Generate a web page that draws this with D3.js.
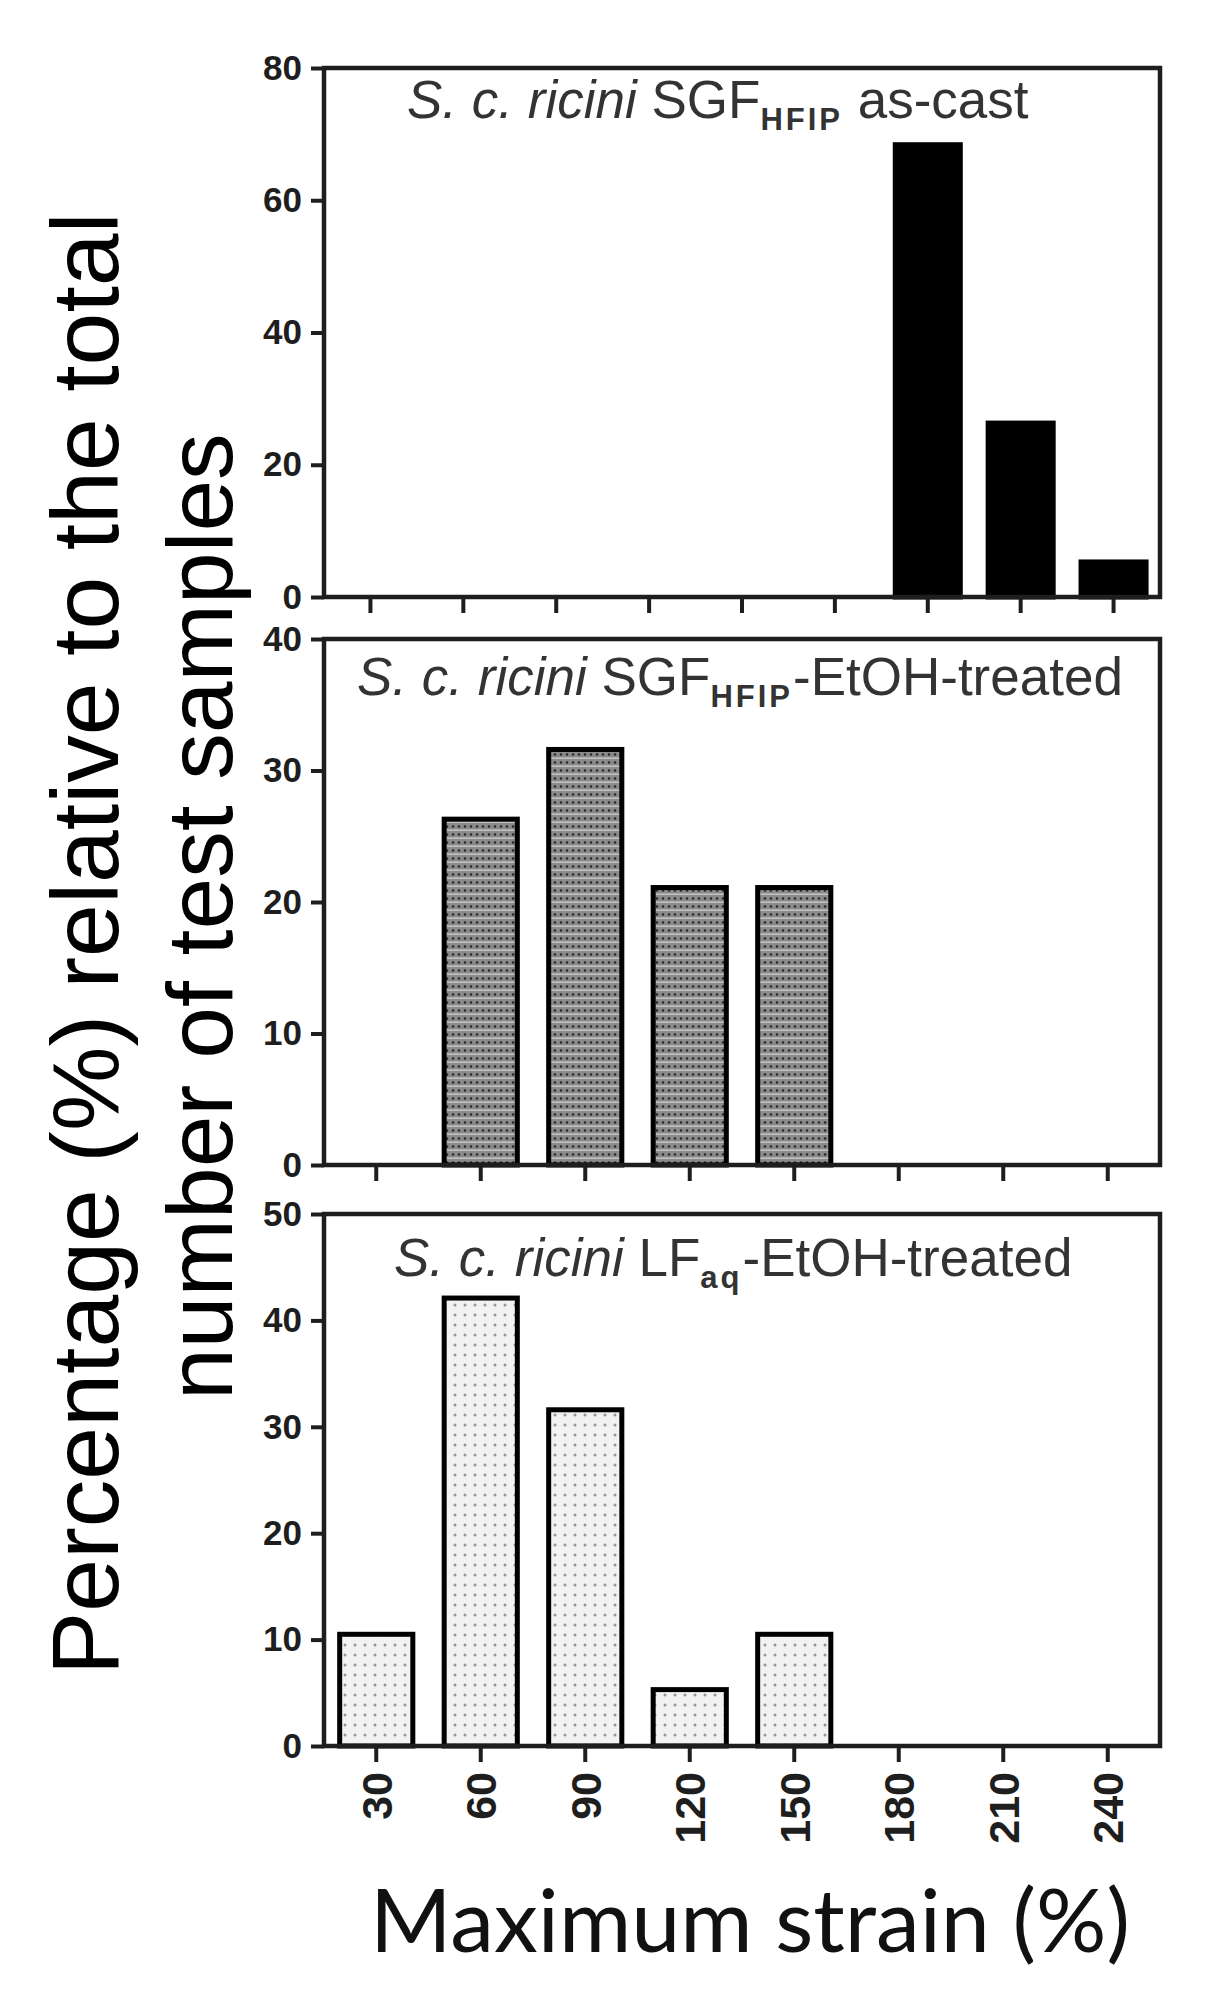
<!DOCTYPE html>
<html>
<head>
<meta charset="utf-8">
<title>Maximum strain distribution</title>
<script src="https://d3js.org/d3.v7.min.js"></script>
<style>
  body { margin: 0; background: #fff; }
  svg { display: block; }
</style>
</head>
<body>
<div id="chart"></div>
<script>
// strain bins (%) - the as-cast panel carries one extra leading bin
var asCastBins = ["0", "30", "60", "90", "120", "150", "180", "210", "240"];
var strainBins = ["30", "60", "90", "120", "150", "180", "210", "240"];

// percentage of test samples in each bin
var asCastValues = [0, 0, 0, 0, 0, 0, 68.4, 26.3, 5.3];
var etohValues   = [0, 26.3, 31.6, 21.1, 21.1, 0, 0, 0];
var lfValues     = [10.5, 42.1, 31.6, 5.3, 10.5, 0, 0, 0];

// y tick labels
var asCastTicks = [0, 20, 40, 60, 80];
var etohTicks   = [0, 10, 20, 30, 40];
var lfTicks     = [0, 10, 20, 30, 40, 50];

// panel titles, split in runs
var asCastTitle = [["S. c. ricini ", "it"], ["SGF", "n"], ["HFIP", "sub"], [" as-cast", "n"]];
var etohTitle   = [["S. c. ricini ", "it"], ["SGF", "n"], ["HFIP", "sub"], ["-EtOH-treated", "n"]];
var lfTitle     = [["S. c. ricini ", "it"], ["LF", "n"], ["aq", "sub"], ["-EtOH-treated", "n"]];

var yTitleLines = ["Percentage (%) relative to the total", "number of test samples"];
var xTitle = "Maximum strain (%)";

var W = 1215, H = 2007;
var left = 324, right = 1160;
var axisColor = "#1e1e1e";
var arial = "'Liberation Sans', Arial, sans-serif";

var svg = d3.select("#chart").append("svg")
    .attr("width", W)
    .attr("height", H);

svg.append("rect").attr("width", W).attr("height", H).attr("fill", "#fff");

// fill patterns
var defs = svg.append("defs");
var dense = defs.append("pattern")
    .attr("id", "dense")
    .attr("patternUnits", "userSpaceOnUse")
    .attr("width", 6).attr("height", 8);
dense.append("rect").attr("width", 6).attr("height", 8).attr("fill", "#8a8a8a");
dense.append("circle").attr("cx", 3).attr("cy", 2.5).attr("r", 1.3).attr("fill", "#2a2a2a");
dense.append("rect").attr("y", 5.5).attr("width", 6).attr("height", 1.5).attr("fill", "#c2c2c2");

var sparse = defs.append("pattern")
    .attr("id", "sparse")
    .attr("patternUnits", "userSpaceOnUse")
    .attr("width", 10).attr("height", 10);
sparse.append("rect").attr("width", 10).attr("height", 10).attr("fill", "#f2f2f2");
sparse.append("circle").attr("cx", 5).attr("cy", 5).attr("r", 1.5).attr("fill", "#959595");

// big y title (two lines, rotated)
svg.append("text")
    .attr("transform", "translate(118,1675) rotate(-90)")
    .style("font-family", arial)
    .style("font-size", "95px")
    .attr("fill", "#000")
    .text(yTitleLines[0]);
svg.append("text")
    .attr("transform", "translate(232,1400) rotate(-90)")
    .style("font-family", arial)
    .style("font-size", "93px")
    .attr("fill", "#000")
    .text(yTitleLines[1]);

var panels = [
    { bins: asCastBins, values: asCastValues, ticks: asCastTicks, title: asCastTitle,
      top: 68, bottom: 597, titleX: 407, titleY: 118, fill: "#000", labels: false },
    { bins: strainBins, values: etohValues, ticks: etohTicks, title: etohTitle,
      top: 639, bottom: 1165, titleX: 357, titleY: 695, fill: "url(#dense)", labels: false },
    { bins: strainBins, values: lfValues, ticks: lfTicks, title: lfTitle,
      top: 1214, bottom: 1746, titleX: 394, titleY: 1276, fill: "url(#sparse)", labels: true }
];

panels.forEach(function(p) {
    var x = d3.scaleBand()
        .domain(p.bins)
        .range([left, right])
        .paddingInner(0.3)
        .paddingOuter(0.15);

    var y = d3.scaleLinear()
        .domain([0, d3.max(p.ticks)])
        .range([p.bottom, p.top]);

    var data = p.bins.map(function(b, i) { return { bin: b, v: p.values[i] }; })
        .filter(function(d) { return d.v > 0; });

    var g = svg.append("g");

    g.selectAll("rect.bar")
        .data(data)
        .enter().append("rect")
        .attr("class", "bar")
        .attr("x", function(d) { return x(d.bin); })
        .attr("y", function(d) { return y(d.v); })
        .attr("width", x.bandwidth())
        .attr("height", function(d) { return p.bottom - y(d.v); })
        .attr("fill", p.fill)
        .attr("stroke", "#000")
        .attr("stroke-width", 5);

    // frame
    g.append("rect")
        .attr("x", left).attr("y", p.top)
        .attr("width", right - left).attr("height", p.bottom - p.top)
        .attr("fill", "none")
        .attr("stroke", axisColor)
        .attr("stroke-width", 4.5);

    // y axis
    var ya = g.append("g")
        .attr("transform", "translate(" + left + ",0)")
        .call(d3.axisLeft(y).tickValues(p.ticks).tickSize(13).tickPadding(9).tickFormat(d3.format("d")));
    ya.select(".domain").remove();
    ya.selectAll("line").attr("stroke", axisColor).attr("stroke-width", 4);
    ya.selectAll("text")
        .style("font-family", arial)
        .style("font-weight", "bold")
        .style("font-size", "35px")
        .attr("fill", axisColor);

    // x axis
    var xa = g.append("g")
        .attr("transform", "translate(0," + p.bottom + ")")
        .call(d3.axisBottom(x).tickSize(16).tickFormat(p.labels ? null : ""));
    xa.select(".domain").remove();
    xa.selectAll("line").attr("stroke", axisColor).attr("stroke-width", 4);
    if (p.labels) {
        xa.selectAll("text")
            .attr("transform", "rotate(-90)")
            .attr("text-anchor", "end")
            .attr("x", -26)
            .attr("y", 0)
            .attr("dy", "0.36em")
            .style("font-family", arial)
            .style("font-weight", "bold")
            .style("font-size", "43px")
            .attr("fill", axisColor);
    }

    // panel title
    var t = g.append("text")
        .attr("x", p.titleX)
        .attr("y", p.titleY)
        .style("font-family", arial)
        .style("font-size", "53px")
        .attr("fill", "#333");
    var shifted = false;
    p.title.forEach(function(run) {
        var ts = t.append("tspan").text(run[0]);
        if (run[1] === "it") ts.style("font-style", "italic");
        if (run[1] === "sub") {
            ts.style("font-size", "31px")
              .style("font-weight", "bold")
              .style("letter-spacing", "3px")
              .attr("dy", 12);
            shifted = true;
        } else if (shifted) {
            ts.attr("dy", -12);
            shifted = false;
        }
    });
});

// x title, fitted to the reference width
var xt = svg.append("text")
    .attr("x", 370)
    .attr("y", 1952)
    .style("font-family", "Lato, 'Open Sans', sans-serif")
    .style("font-size", "90px")
    .attr("fill", "#111")
    .text(xTitle);
var len = xt.node().getComputedTextLength();
xt.style("font-size", (90 * 760 / len) + "px");
</script>
</body>
</html>
